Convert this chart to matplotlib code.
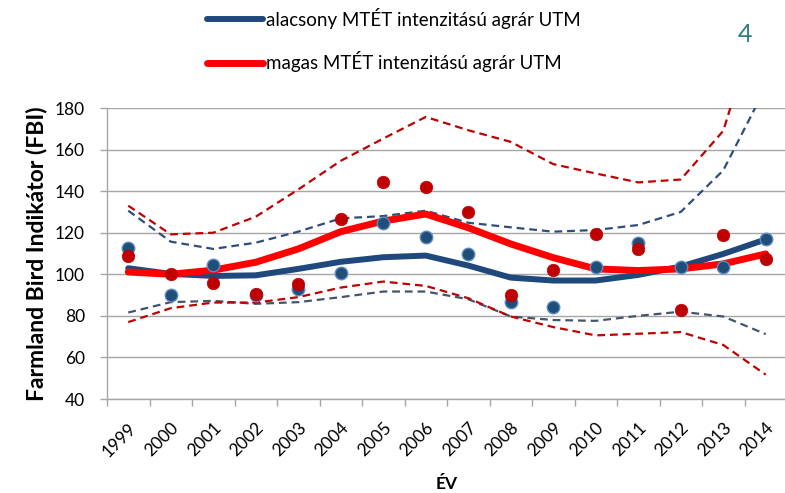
import matplotlib
matplotlib.use('Agg')
import matplotlib.pyplot as plt
import numpy as np

plt.rcParams['font.family'] = ['Lato', 'DejaVu Sans']

years = [str(y) for y in range(1999, 2015)]

# low-intensity agricultural UTM squares
low_trend = [102.9, 100.2, 99.2, 99.5, 102.6, 106.0, 108.2, 109.0, 104.2, 98.4, 97.0, 97.0, 99.7, 103.7, 109.8, 116.8]
low_upper = [130.6, 115.7, 112.2, 115.2, 120.5, 126.9, 128.0, 130.6, 124.8, 122.6, 120.5, 121.3, 123.7, 130.0, 150.0, 190.0]
low_lower = [81.6, 86.6, 87.2, 85.8, 86.6, 89.0, 91.7, 91.7, 88.0, 79.7, 78.0, 77.6, 80.0, 82.0, 79.7, 71.2]
low_index = [112.5, 89.8, 104.5, 90.0, 93.1, 100.5, 124.5, 118.0, 109.9, 86.9, 84.2, 103.7, 115.2, 103.7, 103.7, 116.8]

# high-intensity agricultural UTM squares
high_trend = [101.1, 100.0, 102.0, 105.8, 112.2, 120.5, 125.6, 129.0, 122.4, 114.6, 108.0, 102.6, 101.8, 102.6, 105.0, 109.8]
high_upper = [133.0, 119.2, 120.0, 127.7, 140.8, 154.6, 165.3, 175.7, 169.3, 163.7, 153.0, 148.5, 144.2, 145.6, 169.0, 235.0]
high_lower = [77.0, 83.7, 86.4, 86.4, 89.0, 93.6, 96.5, 94.4, 88.5, 79.7, 74.6, 70.6, 71.4, 72.2, 66.0, 51.7]
high_index = [108.8, 100.0, 96.0, 90.4, 95.2, 126.4, 144.2, 142.1, 129.9, 89.8, 101.9, 119.4, 112.0, 82.6, 118.7, 107.2]

blue = '#1F497D'
blue_dash = '#2E4D7B'
blue_dash2 = '#44546A'
red = '#FF0000'
dark_red = '#C00000'

fig = plt.figure(figsize=(7.85, 4.93), dpi=100)
ax = fig.add_axes([107 / 785, 1 - 399 / 493, 680 / 785, 291 / 493])

x = np.arange(len(years))

ax.plot(x, low_upper, color=blue_dash, lw=1.6, ls=(0, (3.5, 2.2)), zorder=3)
ax.plot(x, low_lower, color=blue_dash2, lw=1.6, ls=(0, (3.5, 2.2)), zorder=3)
ax.plot(x, high_upper, color=dark_red, lw=1.6, ls=(0, (3.5, 2.2)), zorder=3)
ax.plot(x, high_lower, color=dark_red, lw=1.6, ls=(0, (3.5, 2.2)), zorder=3)

l1, = ax.plot(x, low_trend, color=blue, lw=4.3, solid_capstyle='round', zorder=4,
              label='alacsony MTÉT intenzitású agrár UTM')
l2, = ax.plot(x, high_trend, color=red, lw=5.0, solid_capstyle='round', zorder=5,
              label='magas MTÉT intenzitású agrár UTM')

ax.plot(x, low_index, 'o', ms=9, color='#1F4E79', mec='#5B8BC4', mew=1.0, zorder=6)
ax.plot(x, high_index, 'o', ms=9, color=dark_red, mec=dark_red, mew=0.5, zorder=7)

ax.set_xlim(-0.5, 15.5)
ax.set_ylim(40, 180)
ax.set_yticks(range(40, 181, 20))
ax.yaxis.grid(True, color='#A6A6A6', lw=1.0)
ax.set_axisbelow(True)

ax.set_xticks(x)
ax.set_xticklabels(years, rotation=45, ha='right', rotation_mode='anchor')
ax.set_xticks(np.arange(-0.5, 16, 1), minor=True)
ax.tick_params(axis='x', which='major', length=0, pad=15, labelsize=12.5)
ax.tick_params(axis='x', which='minor', length=5, color='#A6A6A6', width=1)
ax.tick_params(axis='y', length=5, color='#A6A6A6', width=1, labelsize=12.5, pad=11)

for s in ['top', 'right']:
    ax.spines[s].set_visible(False)
for s in ['left', 'bottom']:
    ax.spines[s].set_color('#A6A6A6')
    ax.spines[s].set_linewidth(1.0)

ax.set_ylabel('Farmland Bird Indikátor (FBI)', fontsize=16.5, fontweight='bold', labelpad=5)
ax.set_xlabel('ÉV', fontsize=12.5, fontweight='bold', labelpad=12)

fig.legend(handles=[l1, l2], loc='upper left', bbox_to_anchor=(190 / 785, 1 + 9 / 493),
           frameon=False, fontsize=13.5, handlelength=3.0, handletextpad=0.15,
           labelspacing=1.2)

fig.text(745 / 785, 1 - 35 / 493, '4', fontsize=18, color='#2E7F7A', ha='center', va='center')

fig.savefig('out.png', dpi=100)
